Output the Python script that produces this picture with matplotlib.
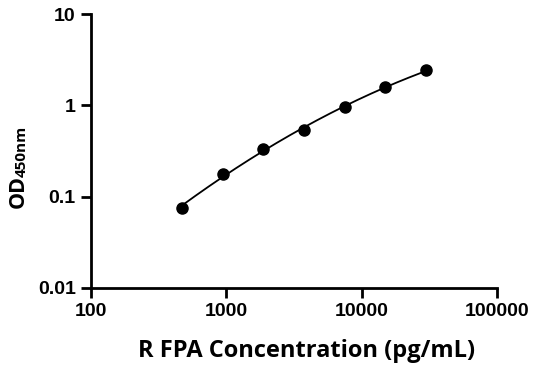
import matplotlib
matplotlib.use("Agg")
import matplotlib.pyplot as plt
import numpy as np

conc = [468.75, 937.5, 1875, 3750, 7500, 15000, 30000]
od = [0.075, 0.179, 0.332, 0.536, 0.95, 1.60, 2.42]
x_ticks = [100, 1000, 10000, 100000]
x_tick_labels = ["100", "1000", "10000", "100000"]
y_ticks = [0.01, 0.1, 1, 10]
y_tick_labels = ["0.01", "0.1", "1", "10"]

fig = plt.figure(figsize=(5.36, 3.71), dpi=100)
ax = fig.add_axes([0.170, 0.224, 0.757, 0.738])

# smooth fit in log-log space
lx = np.log10(conc)
ly = np.log10(od)
coef = np.polyfit(lx, ly, 2)
xs = np.linspace(lx[0], lx[-1], 200)
ax.plot(10**xs, 10**np.polyval(coef, xs), color='black', lw=1.3, zorder=2)
ax.plot(conc, od, 'o', color='black', markersize=8, zorder=3)

ax.set_xscale('log')
ax.set_yscale('log')
ax.set_xlim(100, 100000)
ax.set_ylim(0.01, 10)
ax.set_xticks(x_ticks)
ax.set_xticklabels(x_tick_labels)
ax.set_yticks(y_ticks)
ax.set_yticklabels(y_tick_labels)
ax.minorticks_off()

for side in ['top', 'right']:
    ax.spines[side].set_visible(False)
for side in ['left', 'bottom']:
    ax.spines[side].set_linewidth(2)
ax.tick_params(width=2, length=7.5, direction='out', pad=3.5)
for lab in ax.get_xticklabels() + ax.get_yticklabels():
    lab.set_fontfamily('Liberation Sans')
    lab.set_fontweight('bold')
    lab.set_fontsize(14)

ax.set_xlabel("R FPA Concentration (pg/mL)", fontfamily='Open Sans',
              fontweight='bold', fontsize=17)
ax.xaxis.set_label_coords(0.532, -0.185)

fig.text(0.053, 0.440, "OD", rotation=90, fontfamily='Open Sans', fontweight='bold',
         fontsize=15.5, ha='right', va='bottom')
fig.text(0.053, 0.522, "450nm", rotation=90, fontfamily='Open Sans', fontweight='bold',
         fontsize=11, ha='right', va='bottom')

plt.savefig("out.png", dpi=100)
